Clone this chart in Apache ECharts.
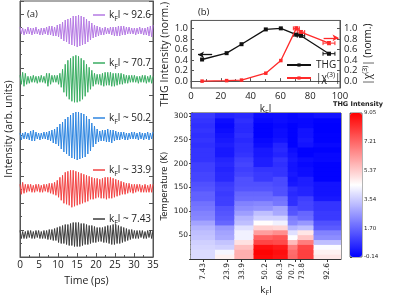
<!DOCTYPE html>
<html><head><meta charset="utf-8">
<script src="https://cdn.jsdelivr.net/npm/echarts@6/dist/echarts.min.js"></script>
<style>html,body{margin:0;padding:0;background:#fff}#c{width:397px;height:300px}</style>
</head><body><div id="c"></div>
<script>
// ---------- Panel (a): time traces (amplitude per 0.35 ps sample) ----------
const timeStep = 0.35;
const traceLabels = ['92.6', '70.7', '50.2', '33.9', '7.43'];
const traceColors = ['#b57ae3', '#3aad62', '#2f86e0', '#f24444', '#3d3d3d'];
const traceOffsets = [226, 177.7, 121, 68.7, 22.5];
const tracePurple = [4,-3,3,-4,2,-3,4,-3,3,-4, 3,-3,4,-3,2,-4,3,-4,3,-3, 4,-4,5,-4,5,-5,4,-5,6,-6,
  7,-8,9,-10,11,-11,12,-13,13,-14, 15,-15,15,-16,16,-15,15,-14,14,-13, 12,-11,10,-9,8,-7,6,-6,5,-5,
  4,-4,3,-4,4,-3,3,-3,4,-4, 4,-5,4,-5,5,-5,5,-4,5,-4, 4,-3,4,-3,3,-3,3,-4,3,-3, 4,-3,3,-4,3,-4,4,-5,5,-6,6];
const traceGreen = [4,-5,7,-7,6,-5,3,-4,3,-3, 4,-3,3,-4,3,-3,4,-3,3,-4, 6,-7,6,-5,4,-3,4,-3,4,-5,
  6,-8,10,-13,15,-17,19,-20,21,-22, 23,-23,24,-23,23,-22,21,-20,19,-17, 15,-13,12,-10,9,-7,6,-5,5,-5,
  5,-6,6,-7,7,-6,7,-6,7,-7, 6,-7,6,-6,6,-5,6,-5,5,-4, 4,-4,4,-3,4,-3,4,-3,3,-4, 3,-3,4,-3,4,-4,3,-3,4,-4,3];
const traceBlue = [3,-4,3,-3,4,-3,3,-4,5,-5, 6,-5,4,-3,3,-4,3,-3,4,-3, 4,-4,5,-5,6,-7,7,-8,9,-10,
  12,-13,14,-16,17,-18,19,-20,21,-22, 23,-23,24,-24,24,-23,23,-22,22,-21, 20,-18,17,-15,13,-11,10,-8,7,-6,
  5,-5,6,-5,6,-6,7,-6,6,-7, 6,-5,5,-4,4,-4,4,-3,4,-4, 3,-4,3,-3,4,-3,4,-3,3,-4, 4,-3,3,-4,3,-3,4,-4,3,-3,4];
const traceRed = [4,-6,6,-5,4,-4,4,-3,4,-4, 3,-4,4,-3,4,-4,3,-4,4,-3, 4,-4,5,-5,5,-6,6,-7,8,-9,
  11,-12,13,-15,16,-16,17,-17,18,-19, 18,-18,17,-17,16,-16,15,-15,14,-14, 13,-13,12,-11,11,-11,10,-10,10,-9,
  9,-10,10,-10,11,-11,11,-10,11,-10, 10,-9,9,-8,8,-7,7,-6,6,-6, 5,-5,5,-4,4,-5,4,-4,4,-3, 4,-4,3,-4,4,-4,3,-4,4,-4,4];
const traceBlack = [4,-4,3,-4,3,-4,4,-3,4,-4, 3,-4,4,-3,4,-4,3,-4,4,-4, 4,-5,5,-5,5,-6,6,-6,7,-8,
  8,-9,9,-9,10,-10,10,-11,11,-11, 12,-12,12,-12,12,-12,11,-11,11,-10, 10,-10,9,-9,9,-8,8,-8,7,-7,
  7,-7,7,-8,8,-8,9,-9,9,-10, 10,-10,10,-9,9,-9,8,-8,7,-7, 6,-6,5,-5,5,-4,4,-4,4,-4, 4,-3,4,-4,3,-4,4,-3,4,-4,4];
const traces = [tracePurple, traceGreen, traceBlue, traceRed, traceBlack];

// ---------- Panel (b) ----------
const kfl = [7.43, 23.9, 33.9, 50.2, 60.3, 70.7, 73.8, 92.6];
const thgNorm = [0.41, 0.53, 0.70, 0.98, 1.00, 0.88, 0.86, 0.52];
const chiNorm = [0.00, 0.01, 0.02, 0.15, 0.39, 1.00, 0.93, 0.72];
const kflErr = [0, 0, 0, 0, 0, 2, 2.5, 4];
const thgErr = [0, 0, 0, 0, 0, 0.02, 0.02, 0.02];
const chiErr = [0, 0, 0, 0, 0, 0.03, 0.03, 0.03];
const thgArrow = [[14.2, 0.50], [4.7, 0.50]];
const chiArrow = [[89, 0.82], [99, 0.82]];
const normTicks = [0, 0.2, 0.4, 0.6, 0.8, 1.0];

// ---------- Panel (c): heatmap (rows bottom -> top) ----------
const rowTemps = [5.1,15.3,25.5,35.7,45.9,56.1,66.3,76.5,86.7,96.9,107.1,117.3,127.5,137.7,147.9,158.1,168.3,178.5,188.7,198.9,209.1,219.3,229.5,239.7,249.9,260.1,270.3,280.5,290.7,300.9];
const rowHeight = 10.2;
const heat743 = [3.8,3.8,3.7,3.6,3.4,3.3,3.1,2.8,2.3,2.2,2.0,1.9,1.6,1.6,1.4,1.3,1.1,1.1,1.0,1.0,0.8,0.8,0.8,0.7,0.8,0.7,0.8,0.7,0.8,0.9];
const heat239 = [4.7,4.3,3.6,3.4,2.9,2.8,2.6,1.7,1.5,1.4,1.3,1.0,1.0,0.9,1.0,0.9,0.6,0.6,0.5,0.6,0.5,0.3,0.3,0.4,0.3,0.2,0.1,0.0,0.1,0.5];
const heat339 = [5.9,5.9,5.6,5.0,4.2,4.2,3.9,3.3,3.1,2.7,2.4,2.2,1.8,1.7,1.4,1.3,1.3,1.1,1.0,1.1,1.0,0.8,0.7,0.7,0.6,0.7,0.6,0.6,0.7,0.6];
const heat502 = [8.9,9.0,8.8,7.8,7.3,6.2,5.3,4.5,3.6,3.3,2.5,2.3,1.8,1.7,1.4,1.3,0.9,0.9,0.8,0.4,0.4,0.3,0.3,0.1,0.0,-0.1,-0.1,-0.1,0.0,0.1];
const heat603 = [8.7,8.8,8.6,7.7,7.5,6.5,5.2,4.2,3.6,2.9,2.8,2.0,1.9,1.3,1.3,1.2,1.2,0.8,0.8,0.7,0.8,0.5,0.6,0.5,0.2,0.1,0.1,0.0,0.1,0.1];
const heat707 = [7.2,7.1,6.8,5.7,4.4,3.9,3.1,2.3,2.1,1.4,1.3,0.7,0.7,0.6,0.7,0.3,0.2,0.3,0.2,0.2,0.3,0.2,0.1,-0.1,-0.1,-0.1,-0.1,-0.1,0.0,0.0];
const heat738 = [7.9,7.9,7.8,6.8,5.5,4.9,3.3,2.6,1.8,1.7,1.1,1.1,1.0,0.5,0.5,0.4,0.4,0.1,0.1,0.0,0.1,-0.1,-0.1,0.2,0.3,0.2,0.2,0.0,0.0,0.1];
const heat926 = [4.9,4.7,4.4,3.3,2.4,2.2,1.5,1.3,0.9,0.9,0.8,0.8,0.3,0.2,0.2,0.2,-0.1,-0.1,-0.1,-0.1,0.0,0.0,-0.1,0.0,-0.1,-0.1,-0.14,-0.14,-0.1,0.2];
const heatCols = [heat743, heat239, heat339, heat502, heat603, heat707, heat738, heat926];
const cbMin = -0.14, cbMax = 9.05;
const cbTicks = [-0.14, 1.70, 3.54, 5.37, 7.21, 9.05];

// ---------- build ----------
const FA = 'Open Sans';
const FC = 'DejaVu Sans';
const txt = '#222';
const frame = '#555';

const rich = {
  a: {fontFamily: FA, fontSize: 10, lineHeight: 14, color: txt},
  s: {fontFamily: FA, fontSize: 7, lineHeight: 7, verticalAlign: 'bottom', color: txt},
  u: {fontFamily: FA, fontSize: 7, lineHeight: 7, verticalAlign: 'top', color: txt}
};
const richC = {
  a: {fontFamily: FC, fontSize: 9, lineHeight: 13, color: txt},
  s: {fontFamily: FC, fontSize: 6.5, lineHeight: 7, verticalAlign: 'bottom', color: txt}
};
const richTick = {
  n: {fontFamily: FC, fontSize: 7.5, color: txt},
  l: {fontFamily: FC, fontSize: 7.5, color: txt, padding: [0, 0, 7, 0]},
  r: {fontFamily: FC, fontSize: 7.5, color: txt, padding: [4, 0, 0, 0]}
};

// heatmap cell edges from kfl midpoints
const xEdges = [];
for (let i = 0; i <= kfl.length; i++) {
  if (i === 0) xEdges.push(kfl[0] - (kfl[1] - kfl[0]) / 2);
  else if (i === kfl.length) xEdges.push(kfl[i-1] + (kfl[i-1] - kfl[i-2]) / 2);
  else xEdges.push((kfl[i-1] + kfl[i]) / 2);
}
const heatData = [];
heatCols.forEach((col, c) => col.forEach((v, r) => {
  heatData.push([xEdges[c], xEdges[c+1], rowTemps[r] - rowHeight/2, rowTemps[r] + rowHeight/2, v]);
}));

const series = [];
traces.forEach((arr, k) => {
  series.push({
    name: 'k' + traceLabels[k], type: 'line', xAxisIndex: 0, yAxisIndex: 0,
    data: arr.map((v, i) => [i * timeStep, traceOffsets[k] + v]),
    showSymbol: false, symbol: 'none', color: traceColors[k],
    lineStyle: {width: 1, color: traceColors[k]}, animation: false, silent: true
  });
});
series.push({
  name: 'THG', type: 'line', xAxisIndex: 1, yAxisIndex: 2,
  data: kfl.map((x, i) => [x, thgNorm[i]]), color: '#111',
  symbol: 'rect', symbolSize: 4, lineStyle: {width: 1.3, color: '#111'}, animation: false,
  markLine: {silent: true, symbol: ['none', 'arrow'], symbolSize: [5, 6], label: {show: false},
    lineStyle: {color: '#111', width: 1.3, type: 'solid'},
    data: [[{coord: thgArrow[0]}, {coord: thgArrow[1]}]], animation: false}
});
series.push({
  name: 'chi', type: 'line', xAxisIndex: 1, yAxisIndex: 3,
  data: kfl.map((x, i) => [x, chiNorm[i]]), color: '#ff2a2a',
  symbol: 'rect', symbolSize: 3.5, lineStyle: {width: 1.3, color: '#ff2a2a'}, animation: false,
  markLine: {silent: true, symbol: ['none', 'arrow'], symbolSize: [5, 6], label: {show: false},
    lineStyle: {color: '#ff2a2a', width: 1.3, type: 'solid'},
    data: [[{coord: chiArrow[0]}, {coord: chiArrow[1]}]], animation: false}
});
function errRender(color) {
  return function (params, api) {
    const x = api.value(0), y = api.value(1), ex = api.value(2), ey = api.value(3);
    if (!ex && !ey) return null;
    const l = api.coord([x - ex, y]), r = api.coord([x + ex, y]);
    const t = api.coord([x, y + ey]), b = api.coord([x, y - ey]);
    const cap = 2;
    const st = {stroke: color, lineWidth: 1};
    return {type: 'group', children: [
      {type: 'line', shape: {x1: l[0], y1: l[1], x2: r[0], y2: r[1]}, style: st},
      {type: 'line', shape: {x1: l[0], y1: l[1] - cap, x2: l[0], y2: l[1] + cap}, style: st},
      {type: 'line', shape: {x1: r[0], y1: r[1] - cap, x2: r[0], y2: r[1] + cap}, style: st},
      {type: 'line', shape: {x1: t[0], y1: t[1], x2: b[0], y2: b[1]}, style: st},
      {type: 'line', shape: {x1: t[0] - cap, y1: t[1], x2: t[0] + cap, y2: t[1]}, style: st},
      {type: 'line', shape: {x1: b[0] - cap, y1: b[1], x2: b[0] + cap, y2: b[1]}, style: st}
    ]};
  };
}
series.push({type: 'custom', xAxisIndex: 1, yAxisIndex: 2, silent: true, animation: false,
  data: kfl.map((x, i) => [x, thgNorm[i], kflErr[i], thgErr[i]]), renderItem: errRender('#111')});
series.push({type: 'custom', xAxisIndex: 1, yAxisIndex: 3, silent: true, animation: false,
  data: kfl.map((x, i) => [x, chiNorm[i], kflErr[i], chiErr[i]]), renderItem: errRender('#ff2a2a')});
const heatIndex = series.length;
series.push({type: 'custom', xAxisIndex: 2, yAxisIndex: 4, silent: true, animation: false,
  data: heatData, encode: {x: [0, 1], y: [2, 3]}, clip: true,
  renderItem: function (params, api) {
    const p0 = api.coord([api.value(0), api.value(3)]);
    const p1 = api.coord([api.value(1), api.value(2)]);
    return {type: 'rect', shape: {x: p0[0], y: p0[1] - 0.5, width: p1[0] - p0[0] + 1, height: p1[1] - p0[1] + 1},
      style: {fill: api.visual('color')}};
  }});

const legendTops = [10, 58, 113, 165, 214];
const legends = traceLabels.map((lab, k) => ({
  data: ['k' + lab], left: 93, top: legendTops[k], padding: 0, itemWidth: 12, itemHeight: 1.5,
  icon: 'rect', itemGap: 3, selectedMode: false,
  textStyle: {rich: rich, padding: [0, 0, 0, -1]},
  formatter: () => '{a|k}{s|F}{a|l ~ ' + lab + '}'
}));
legends.push({
  data: ['THG', 'chi'], left: 286, top: 60, orient: 'vertical', padding: 0, itemWidth: 24, itemHeight: 4,
  itemGap: 1, selectedMode: false, textStyle: {rich: rich},
  formatter: n => n === 'THG' ? '{a|THG}' : '{a||χ}{u|(3)}{a||}'
});

const noSplit = {show: false};
const option = {
  animation: false,
  textStyle: {fontFamily: FA},
  grid: [
    {left: 20, top: 1, width: 133, height: 256, show: true, borderColor: frame, borderWidth: 1},
    {left: 191, top: 1, width: 149, height: 87, show: true, borderColor: frame, borderWidth: 1},
    {left: 191, top: 113, width: 150, height: 146, show: true, borderColor: '#333', borderWidth: 1},
    {left: 350, top: 113, width: 12, height: 144, show: true, borderColor: '#444', borderWidth: 0.8}
  ],
  xAxis: [
    {gridIndex: 0, type: 'value', min: 0, max: 35, interval: 5, splitLine: noSplit,
      axisLine: {lineStyle: {color: frame}}, axisTick: {inside: true, length: 4, lineStyle: {color: frame}},
      minorTick: {show: true, splitNumber: 2, length: 2, lineStyle: {color: frame}},
      axisLabel: {fontFamily: FA, fontSize: 10, color: txt, margin: 3},
      name: 'Time (ps)', nameLocation: 'middle', nameGap: 19, nameTextStyle: {fontFamily: FA, fontSize: 10.5, color: txt}},
    {gridIndex: 1, type: 'value', min: 0, max: 100, interval: 20, splitLine: noSplit,
      axisLine: {lineStyle: {color: frame}}, axisTick: {inside: true, length: 3, lineStyle: {color: frame}},
      minorTick: {show: true, splitNumber: 2, length: 2, lineStyle: {color: frame}},
      axisLabel: {fontFamily: FA, fontSize: 9.5, color: txt, margin: 3},
      name: '{a|k}{s|F}{a|l}', nameLocation: 'middle', nameGap: 14, nameTextStyle: {rich: rich}},
    {gridIndex: 2, type: 'value', min: -0.8, max: 102, splitLine: noSplit,
      axisLine: {lineStyle: {color: '#333'}},
      axisTick: {customValues: kfl, length: 3, lineStyle: {color: '#333'}},
      axisLabel: {customValues: kfl, rotate: 90, color: txt, margin: 4, rich: richTick,
        formatter: v => {
          const s = String(v);
          if (s === '70.7') return '{l|' + s + '}';
          if (s === '73.8') return '{r|' + s + '}';
          return '{n|' + s + '}';
        }},
      name: '{a|k}{s|F}{a|l}', nameLocation: 'middle', nameGap: 25, nameTextStyle: {rich: richC}},
    {gridIndex: 3, type: 'value', show: false, min: 0, max: 1}
  ],
  yAxis: [
    {gridIndex: 0, type: 'value', min: 0, max: 256, interval: 27, splitLine: noSplit,
      axisLine: {lineStyle: {color: frame}}, axisTick: {inside: true, length: 4, lineStyle: {color: frame}},
      minorTick: {show: true, splitNumber: 2, length: 2, lineStyle: {color: frame}},
      axisLabel: {show: false},
      name: 'Intensity (arb. units)', nameLocation: 'middle', nameGap: 5, nameRotate: 90,
      nameTextStyle: {fontFamily: FA, fontSize: 10.5, color: txt}},
    {gridIndex: 0, type: 'value', position: 'right', min: 0, max: 256, interval: 27, splitLine: noSplit,
      axisLine: {lineStyle: {color: frame}}, axisTick: {inside: true, length: 4, lineStyle: {color: frame}},
      axisLabel: {show: false}},
    {gridIndex: 1, type: 'value', min: -0.13, max: 1.15, splitLine: noSplit,
      axisLine: {lineStyle: {color: frame}},
      axisTick: {customValues: normTicks, inside: true, length: 3, lineStyle: {color: frame}},
      axisLabel: {customValues: normTicks, fontFamily: FA, fontSize: 9.5, color: txt, margin: 3,
        formatter: v => v.toFixed(1)},
      name: 'THG Intensity (norm.)', nameLocation: 'middle', nameGap: 18, nameRotate: 90,
      nameTextStyle: {fontFamily: FA, fontSize: 10.5, color: txt}},
    {gridIndex: 1, type: 'value', position: 'right', min: -0.13, max: 1.15, splitLine: noSplit,
      axisLine: {lineStyle: {color: frame}},
      axisTick: {customValues: normTicks, inside: true, length: 3, lineStyle: {color: frame}},
      axisLabel: {customValues: normTicks, fontFamily: FA, fontSize: 9.5, color: txt, margin: 4,
        formatter: v => v.toFixed(1)},
      name: '{a||χ}{u|(3)}{a|| (norm.)}', nameLocation: 'middle', nameGap: 19, nameRotate: 90,
      nameTextStyle: {rich: rich}},
    {gridIndex: 2, type: 'value', min: 0, max: 306, interval: 50, splitLine: noSplit,
      axisLine: {lineStyle: {color: '#333'}}, axisTick: {length: 3, lineStyle: {color: '#333'}},
      minorTick: {show: true, splitNumber: 5, length: 1.5, lineStyle: {color: '#333'}},
      axisLabel: {fontFamily: FC, fontSize: 7.5, color: txt, margin: 3, showMinLabel: false, showMaxLabel: false},
      name: 'Temperature (K)', nameLocation: 'middle', nameGap: 19, nameRotate: 90,
      nameTextStyle: {fontFamily: FC, fontSize: 8.5, color: txt}},
    {gridIndex: 3, type: 'value', position: 'right', min: cbMin, max: cbMax, splitLine: noSplit,
      axisLine: {show: false},
      axisTick: {customValues: cbTicks, length: 2, lineStyle: {color: '#444'}},
      axisLabel: {customValues: cbTicks, fontFamily: FC, fontSize: 5.5, color: txt, margin: 2,
        formatter: v => v.toFixed(2)}}
  ],
  visualMap: {
    type: 'continuous', min: cbMin, max: cbMax, seriesIndex: heatIndex, dimension: 4,
    inRange: {color: ['#0000ff', '#ffffff', '#ff0000']},
    left: 350, top: 113, itemWidth: 12, itemHeight: 144, padding: 0,
    calculable: false, text: null, showLabel: false, hoverLink: false, realtime: false
  },
  legend: legends,
  graphic: [
    {type: 'text', left: 27, top: 9, style: {text: '(a)', font: '9.5px "Open Sans"', fill: txt}},
    {type: 'text', left: 198, top: 7, style: {text: '(b)', font: '9.5px "Open Sans"', fill: txt}},
    {type: 'text', left: 196, top: 119, style: {text: '(c)', font: '9.5px "Open Sans"', fill: txt}},
    {type: 'text', left: 333, top: 101, style: {text: 'THG Intensity', font: 'bold 6.5px "DejaVu Sans"', fill: txt}}
  ],
  series: series
};
const chart = echarts.init(document.getElementById('c'), null, {renderer: 'canvas'});
chart.setOption(option);
</script></body></html>
